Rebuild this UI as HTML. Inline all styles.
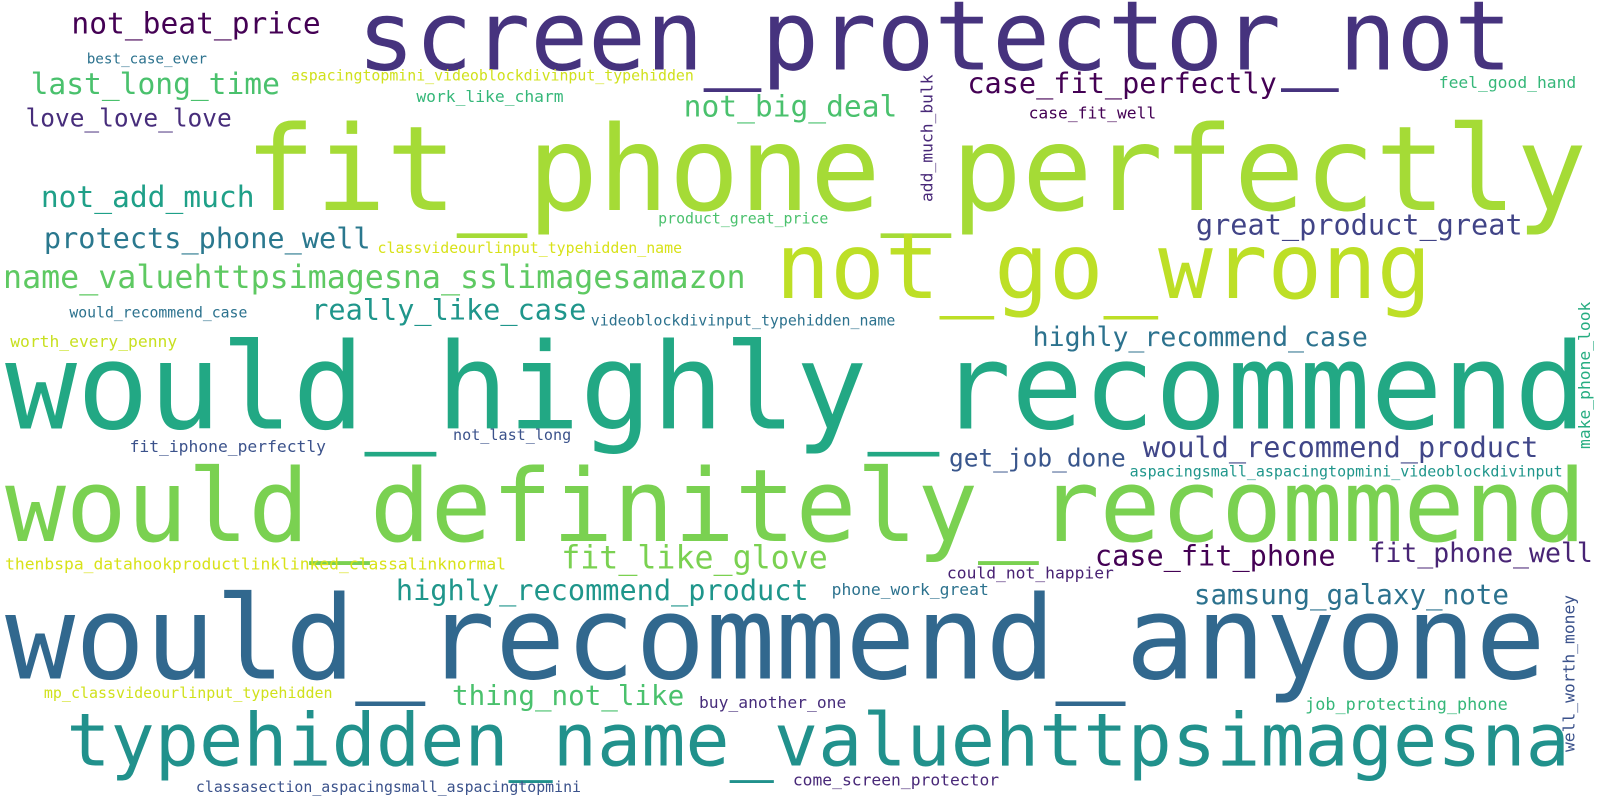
<!DOCTYPE html>
<html><head><meta charset="utf-8"><style>
html,body{margin:0;padding:0;background:#fff;}
svg{display:block;}
text{font-family:"DejaVu Sans Mono","Liberation Mono",monospace;}
</style></head><body>
<svg id="cloud" width="1600" height="800" viewBox="0 0 1600 800" xmlns="http://www.w3.org/2000/svg">
<rect width="1600" height="800" fill="#fff"/>
<g transform="scale(1.0204)">
<text x="350" y="68" font-size="94" fill="#46337e">screen_protector_not</text>
<text x="240" y="206" font-size="115" fill="#a5db36">fit_phone_perfectly</text>
<text x="760" y="292" font-size="89" fill="#bddf26">not_go_wrong</text>
<text x="5" y="420" font-size="117" fill="#22a884">would_highly_recommend</text>
<text x="5" y="530" font-size="99" fill="#7ad151">would_definitely_recommend</text>
<text x="5" y="665" font-size="114" fill="#31688e">would_recommend_anyone</text>
<text x="65" y="750" font-size="72" fill="#21918c">typehidden_name_valuehttpsimagesna</text>

<text x="70" y="33" font-size="29" fill="#440154">not_beat_price</text>
<text x="85" y="62" font-size="14" fill="#2c728e">best_case_ever</text>
<text x="30" y="92" font-size="29" fill="#4ac16d">last_long_time</text>
<text x="285" y="79" font-size="14.6" fill="#d0e11c">aspacingtopmini_videoblockdivinput_typehidden</text>
<text x="408" y="100" font-size="16" fill="#35b779">work_like_charm</text>
<text x="25" y="124" font-size="24" fill="#472d7b">love_love_love</text>
<text x="670" y="114" font-size="29" fill="#4ac16d">not_big_deal</text>
<text x="948" y="91" font-size="28" fill="#440154">case_fit_perfectly</text>
<text transform="translate(914,198) rotate(-90)" font-size="16" fill="#482878">add_much_bulk</text>
<text x="1008" y="116" font-size="16" fill="#440154">case_fit_well</text>
<text x="1410" y="86" font-size="16" fill="#35b779">feel_good_hand</text>
<text x="40" y="203" font-size="29" fill="#1fa088">not_add_much</text>
<text x="645" y="219" font-size="14.6" fill="#4ac16d">product_great_price</text>
<text x="1172" y="230" font-size="28" fill="#414487">great_product_great</text>
<text x="43" y="243" font-size="28" fill="#2a788e">protects_phone_well</text>
<text x="370" y="248" font-size="14.6" fill="#d8e219">classvideourlinput_typehidden_name</text>
<text x="3" y="282" font-size="31" fill="#5ec962">name_valuehttpsimagesna_sslimagesamazon</text>
<text x="305" y="313" font-size="28" fill="#1f968b">really_like_case</text>
<text x="68" y="311" font-size="14.5" fill="#2c728e">would_recommend_case</text>
<text x="579" y="319" font-size="14.6" fill="#2c728e">videoblockdivinput_typehidden_name</text>
<text x="10" y="340" font-size="16" fill="#c8e020">worth_every_penny</text>
<text x="1012" y="339" font-size="26" fill="#2c728e">highly_recommend_case</text>
<text transform="translate(1558,440) rotate(-90)" font-size="16" fill="#27ad81">make_phone_look</text>
<text x="127" y="443" font-size="16" fill="#3b528b">fit_iphone_perfectly</text>
<text x="444" y="431" font-size="14.8" fill="#3b528b">not_last_long</text>
<text x="930" y="457" font-size="24" fill="#39568c">get_job_done</text>
<text x="1120" y="448" font-size="28" fill="#404688">would_recommend_product</text>
<text x="1107" y="467" font-size="14.7" fill="#1f968b">aspacingsmall_aspacingtopmini_videoblockdivinput</text>
<text x="5" y="558" font-size="16" fill="#d8e219">thenbspa_datahookproductlinklinked_classalinknormal</text>
<text x="550" y="557" font-size="31" fill="#7ad151">fit_like_glove</text>
<text x="1073" y="554" font-size="28" fill="#440154">case_fit_phone</text>
<text x="1342" y="551" font-size="26" fill="#482475">fit_phone_well</text>
<text x="928" y="567" font-size="16" fill="#482173">could_not_happier</text>
<text x="388" y="588" font-size="28" fill="#1f968b">highly_recommend_product</text>
<text x="1170" y="592" font-size="27" fill="#2c728e">samsung_galaxy_note</text>
<text x="815" y="583" font-size="16" fill="#2c728e">phone_work_great</text>
<text transform="translate(1543,737) rotate(-90)" font-size="16" fill="#3b528b">well_worth_money</text>
<text x="43" y="684" font-size="14.7" fill="#d0e11c">mp_classvideourlinput_typehidden</text>
<text x="443" y="691" font-size="27" fill="#4ac16d">thing_not_like</text>
<text x="685" y="694" font-size="16" fill="#472d7b">buy_another_one</text>
<text x="1279" y="696" font-size="16.5" fill="#35b779">job_protecting_phone</text>
<text x="192" y="776" font-size="14.6" fill="#3b528b">classasection_aspacingsmall_aspacingtopmini</text>
<text x="777" y="770" font-size="16" fill="#482878">come_screen_protector</text>
</g>
</svg>
</body></html>
